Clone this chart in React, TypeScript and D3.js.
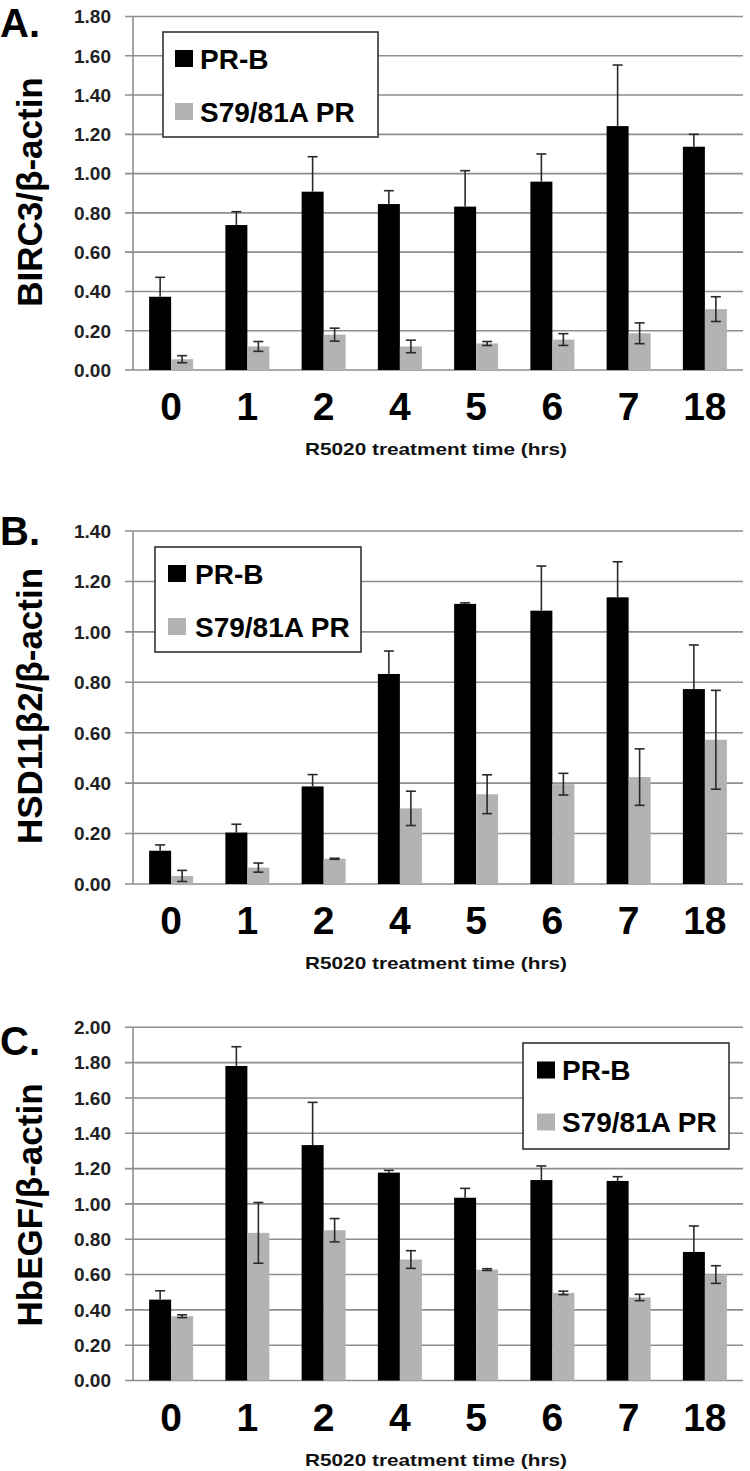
import React from "react";
import * as d3 from "d3";

const categories = ["0", "1", "2", "4", "5", "6", "7", "18"];
const seriesNames = ["PR-B", "S79/81A PR"];

const birc3PRB = [0.373, 0.738, 0.908, 0.845, 0.832, 0.959, 1.242, 1.137];
const birc3PRBErr = [0.099, 0.068, 0.178, 0.068, 0.183, 0.141, 0.311, 0.063];
const birc3Mut = [0.055, 0.12, 0.18, 0.12, 0.135, 0.155, 0.187, 0.31];
const birc3MutErr = [0.018, 0.025, 0.033, 0.032, 0.01, 0.03, 0.053, 0.063];

const hsdPRB = [0.132, 0.204, 0.387, 0.833, 1.111, 1.084, 1.137, 0.773];
const hsdPRBErr = [0.023, 0.033, 0.047, 0.091, 0.004, 0.177, 0.141, 0.175];
const hsdMut = [0.032, 0.065, 0.1, 0.3, 0.356, 0.396, 0.424, 0.572];
const hsdMutErr = [0.022, 0.018, 0.002, 0.068, 0.077, 0.043, 0.112, 0.196];

const hbegfPRB = [0.458, 1.781, 1.333, 1.177, 1.035, 1.135, 1.13, 0.728];
const hbegfPRBErr = [0.05, 0.109, 0.242, 0.013, 0.053, 0.08, 0.024, 0.147];
const hbegfMut = [0.364, 0.836, 0.851, 0.685, 0.628, 0.496, 0.47, 0.6];
const hbegfMutErr = [0.008, 0.172, 0.066, 0.05, 0.005, 0.01, 0.018, 0.05];

const xTitle = "R5020 treatment time (hrs)";

const COLORS = ["#000000", "#b3b3b3"];
const GRID = "#8e8e8e";
const FONT = "'Liberation Sans', Arial, sans-serif";

type PanelProps = {
  letter: string;
  yLabel: string;
  yMax: number;
  top: number;
  bottom: number;
  s1: number[];
  e1: number[];
  s2: number[];
  e2: number[];
  legend: { x0: number; x1: number; y0: number; y1: number; sqX: number; textX: number; rows: number[] };
  letterY: number;
  yLabelY: number;
};

function Panel(p: PanelProps) {
  const x = d3.scaleBand<string>().domain(categories).range([133, 743]).padding(0);
  const inner = d3.scaleBand<number>().domain([0, 1]).range([0, 44]).padding(0);
  const y = d3.scaleLinear().domain([0, p.yMax]).range([p.bottom, p.top]);
  const ticks = d3.range(0, p.yMax + 0.0001, 0.2);
  const series = [
    { v: p.s1, e: p.e1 },
    { v: p.s2, e: p.e2 },
  ];
  const bw = inner.bandwidth();
  return (
    <g>
      {ticks.map((t, i) => (
        <g key={i}>
          <line x1={125} x2={743} y1={y(t)} y2={y(t)} stroke={GRID} strokeWidth={1.6} />
          <text x={111} y={y(t)} dy="0.36em" textAnchor="end" fontFamily={FONT} fontWeight="bold" fontSize={19} fill="#222">
            {d3.format(".2f")(t)}
          </text>
        </g>
      ))}
      <line x1={133} x2={133} y1={p.top} y2={p.bottom} stroke={GRID} strokeWidth={1.6} />
      {series.map((s, si) =>
        categories.map((c, ci) => {
          const cx = (x(c) as number) + x.bandwidth() / 2 - 22 + (inner(si) as number);
          return (
            <rect key={`${si}-${ci}`} x={cx} y={y(s.v[ci])} width={bw} height={p.bottom - y(s.v[ci])} fill={COLORS[si]} />
          );
        })
      )}
      {series.map((s, si) =>
        categories.map((c, ci) => {
          const mx = (x(c) as number) + x.bandwidth() / 2 - 22 + (inner(si) as number) + bw / 2;
          const hi = y(s.v[ci] + s.e[ci]);
          const lo = si === 0 ? y(s.v[ci]) : y(Math.max(0, s.v[ci] - s.e[ci]));
          return (
            <g key={`e${si}-${ci}`} stroke="#2a2a2a" strokeWidth={1.6}>
              <line x1={mx} x2={mx} y1={hi} y2={lo} />
              <line x1={mx - 5} x2={mx + 5} y1={hi} y2={hi} />
              {si === 1 && <line x1={mx - 5} x2={mx + 5} y1={lo} y2={lo} />}
            </g>
          );
        })
      )}
      {categories.map((c) => (
        <text key={c} x={(x(c) as number) + x.bandwidth() / 2} y={p.bottom + 50} textAnchor="middle" fontFamily={FONT} fontWeight="bold" fontSize={39} fill="#000">
          {c}
        </text>
      ))}
      <text x={436} y={p.bottom + 85} textAnchor="middle" fontFamily={FONT} fontWeight="bold" fontSize={17} fill="#111" textLength={262} lengthAdjust="spacingAndGlyphs">
        {xTitle}
      </text>
      <text transform={`translate(42,${p.yLabelY}) rotate(-90)`} textAnchor="middle" fontFamily={FONT} fontWeight="bold" fontSize={35} fill="#000">
        {p.yLabel}
      </text>
      <text x={0} y={p.letterY} fontFamily={FONT} fontWeight="bold" fontSize={40} fill="#000">
        {p.letter}
      </text>
      <rect x={p.legend.x0} y={p.legend.y0} width={p.legend.x1 - p.legend.x0} height={p.legend.y1 - p.legend.y0} fill="#fff" stroke="#333" strokeWidth={1.6} />
      {seriesNames.map((n, i) => (
        <g key={n}>
          <rect x={p.legend.sqX} y={p.legend.rows[i] - 8.5} width={18} height={17} fill={COLORS[i]} />
          <text x={p.legend.textX} y={p.legend.rows[i] + 10} fontFamily={FONT} fontWeight="bold" fontSize={28} fill="#000">
            {n}
          </text>
        </g>
      ))}
    </g>
  );
}

export default function App() {
  return (
    <svg width={750} height={1471} style={{ position: "absolute", left: 0, top: 0, background: "#fff" }}>
      <rect x={0} y={0} width={750} height={1471} fill="#fff" />
      <Panel
        letter="A."
        yLabel="BIRC3/β-actin"
        yMax={1.8}
        top={16.5}
        bottom={370}
        s1={birc3PRB}
        e1={birc3PRBErr}
        s2={birc3Mut}
        e2={birc3MutErr}
        legend={{ x0: 163, x1: 378, y0: 32, y1: 137, sqX: 175, textX: 200, rows: [58.5, 111.5] }}
        letterY={37}
        yLabelY={192}
      />
      <Panel
        letter="B."
        yLabel="HSD11β2/β-actin"
        yMax={1.4}
        top={531}
        bottom={884}
        s1={hsdPRB}
        e1={hsdPRBErr}
        s2={hsdMut}
        e2={hsdMutErr}
        legend={{ x0: 155, x1: 361, y0: 547, y1: 652, sqX: 168, textX: 195, rows: [573.5, 626.5] }}
        letterY={545}
        yLabelY={706}
      />
      <Panel
        letter="C."
        yLabel="HbEGF/β-actin"
        yMax={2.0}
        top={1027.3}
        bottom={1380.5}
        s1={hbegfPRB}
        e1={hbegfPRBErr}
        s2={hbegfMut}
        e2={hbegfMutErr}
        legend={{ x0: 523, x1: 729, y0: 1043, y1: 1149, sqX: 537, textX: 562, rows: [1070, 1122] }}
        letterY={1055}
        yLabelY={1205}
      />
    </svg>
  );
}
